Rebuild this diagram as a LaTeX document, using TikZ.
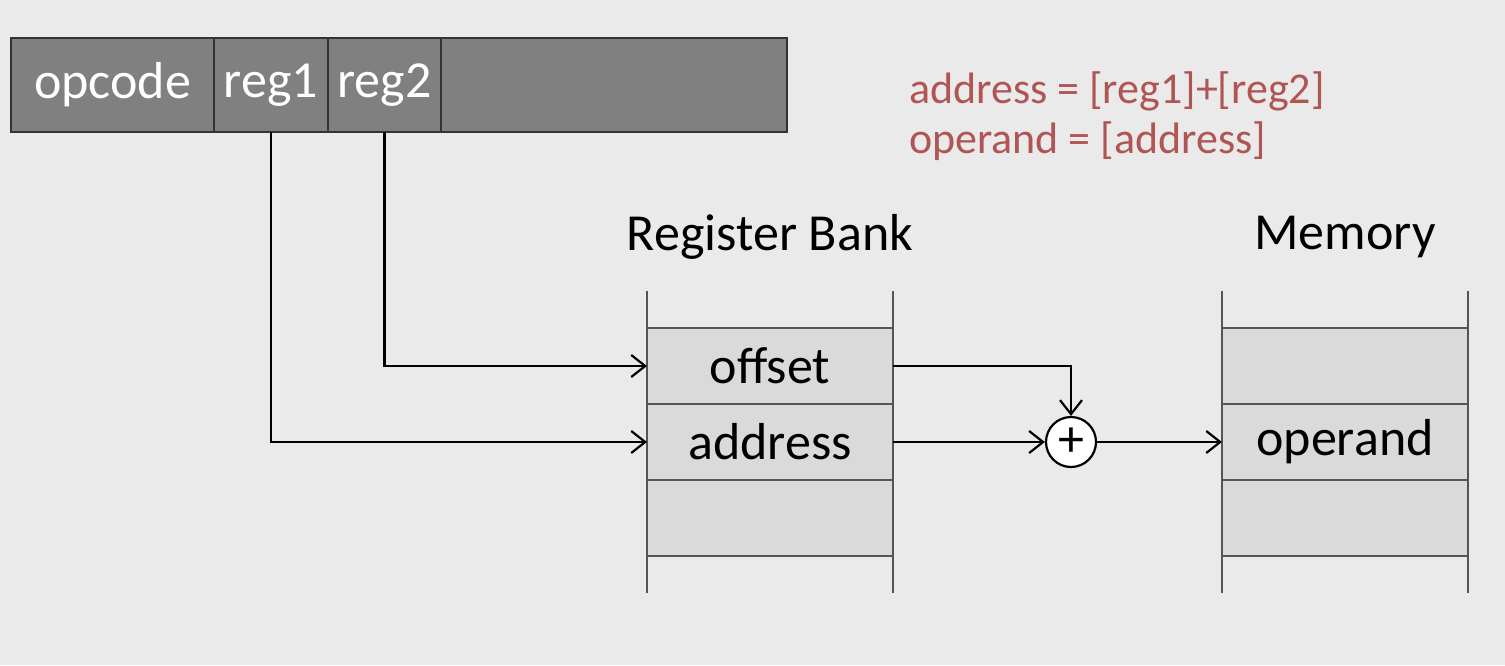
\documentclass[tikz,border=0pt]{standalone}
\usepackage{fontspec}
\setmainfont{Carlito}
\usetikzlibrary{arrows.meta, positioning}
\definecolor{slidebg}{RGB}{234, 234, 234}
\definecolor{fieldgray}{RGB}{128, 128, 128}
\definecolor{cellgray}{RGB}{218, 218, 218}
\definecolor{linegray}{RGB}{85, 85, 85}
\definecolor{notered}{RGB}{176, 84, 84}
\tikzset{
  % Instruction word fields.
  field/.style={
    rectangle, draw=black!80, line width=0.6pt,
    fill=fieldgray, text=white,
    minimum height=47pt, inner sep=0pt, outer sep=0pt,
    font=\fontsize{26}{30}\selectfont,
  },
  % Storage cells (register bank, memory).
  cell/.style={
    rectangle, draw=linegray, line width=0.6pt,
    fill=cellgray,
    minimum width=123pt, minimum height=38pt,
    inner sep=0pt, outer sep=0pt,
    font=\fontsize{26}{30}\selectfont,
  },
  rail/.style={draw=linegray, line width=0.7pt},
  banktitle/.style={font=\fontsize{26}{30}\selectfont},
  adder/.style={
    circle, draw=black, line width=1.1pt, fill=white,
    minimum size=25pt, inner sep=0pt,
    font=\fontsize{26}{26}\selectfont,
  },
  % Arrows.
  wire/.style={
    -{Straight Barb[length=7pt, width=11pt, line width=1.1pt]},
    line width=1.1pt, draw=black,
  },
}

\begin{document}
\begin{tikzpicture}[x=0.5pt, y=-0.5pt]

  \fill[slidebg] (0,0) rectangle (1505,665);
  \useasboundingbox (0,0) rectangle (1505,665);

  % Instruction word.
  \node[field, minimum width=101.5pt, anchor=west] (opcode) at (11,85) {opcode};
  \node[field, minimum width=57pt, right=0pt of opcode] (reg1) {reg1};
  \node[field, minimum width=56.5pt, right=0pt of reg1] (reg2) {reg2};
  \node[field, minimum width=173pt, right=0pt of reg2] (rest) {};

  % Effective address note.
  \node[anchor=north west, align=left, text=notered,
        font=\fontsize{22}{25}\selectfont] (note) at (902,65)
    {address = [reg1]+[reg2]\\operand = [address]};

  % Register bank.
  \node[banktitle] (rbtitle) at (770,237) {Register Bank};
  \node[cell] (rb0) at (770,366) {offset};
  \node[cell, below=0pt of rb0] (rb1) {address};
  \node[cell, below=0pt of rb1] (rb2) {};
  \draw[rail] ([yshift=18.5pt]rb0.north west) -- ([yshift=-18.5pt]rb2.south west);
  \draw[rail] ([yshift=18.5pt]rb0.north east) -- ([yshift=-18.5pt]rb2.south east);

  % Memory.
  \node[banktitle] (memtitle) at (1345,237) {Memory};
  \node[cell] (mem0) at (1345,366) {};
  \node[cell, below=0pt of mem0] (mem1) {operand};
  \node[cell, below=0pt of mem1] (mem2) {};
  \draw[rail] ([yshift=18.5pt]mem0.north west) -- ([yshift=-18.5pt]mem2.south west);
  \draw[rail] ([yshift=18.5pt]mem0.north east) -- ([yshift=-18.5pt]mem2.south east);

  % Adder.
  \node[adder] (add) at (1071,442) {+};

  % Data paths.
  \draw[wire] (reg2.south) |- (rb0.west);
  \draw[wire] (reg1.south) |- (rb1.west);
  \draw[wire] (rb0.east) -| (add.north);
  \draw[wire] (rb1.east) -- (add.west);
  \draw[wire] (add.east) -- (mem1.west);

\end{tikzpicture}
\end{document}
